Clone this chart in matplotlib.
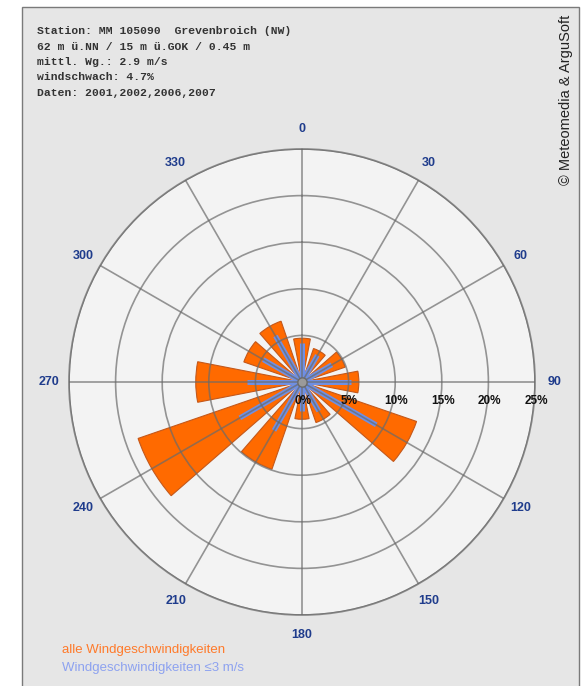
import numpy as np
import matplotlib
matplotlib.use("Agg")
import matplotlib.pyplot as plt
from matplotlib.patches import Rectangle

# Data (percent frequency per 30 degree sector)
directions = [0, 30, 60, 90, 120, 150, 180, 210, 240, 270, 300, 330]
all_speeds = [4.7, 3.8, 4.9, 6.1, 13.0, 4.6, 4.0, 9.9, 18.6, 11.4, 6.6, 6.9]
low_speeds = [4.2, 3.3, 3.7, 5.3, 9.2, 3.6, 3.1, 6.0, 7.7, 5.9, 4.8, 5.7]
ring_values = [0, 5, 10, 15, 20, 25]
ring_labels = ["0%", "5%", "10%", "15%", "20%", "25%"]
angle_labels = ["0", "30", "60", "90", "120", "150", "180",
                "210", "240", "270", "300", "330"]

info_lines = [
    "Station: MM 105090  Grevenbroich (NW)",
    "62 m ü.NN / 15 m ü.GOK / 0.45 m",
    "mittl. Wg.: 2.9 m/s",
    "windschwach: 4.7%",
    "Daten: 2001,2002,2006,2007",
]

W, H = 585, 686
fig = plt.figure(figsize=(W / 100, H / 100), dpi=100)
fig.patch.set_facecolor("white")

# grey panel with frame (background axes)
bg = fig.add_axes([0, 0, 1, 1], zorder=-1)
bg.set_xlim(0, W)
bg.set_ylim(H, 0)
bg.axis("off")
bg.add_patch(Rectangle((22, 7), 557, 685, facecolor="#e6e6e6", edgecolor="#7a7a7a", lw=1.0))

# polar axes: centre (302,382), radius 233 px
cx, cy, R = 302, 382, 233
ax = fig.add_axes([(cx - R) / W, (H - cy - R) / H, 2 * R / W, 2 * R / H], projection="polar")
ax.set_theta_zero_location("N")
ax.set_theta_direction(-1)
ax.set_facecolor("#f3f3f3")
ax.set_ylim(0, 25)

theta = np.deg2rad(directions)
ax.bar(theta, all_speeds, width=np.deg2rad(22), color="#ff6a00",
       edgecolor="#c4581a", linewidth=0.8, zorder=1)
for t, r in zip(theta, low_speeds):
    ax.plot([t, t], [0, r], color="#6f8fe3", lw=3.6, solid_capstyle="butt", zorder=2)

# grid drawn over bars
ax.set_axisbelow(False)
ax.set_xticks(theta)
ax.set_xticklabels([])
ax.set_yticks(ring_values[1:])
ax.set_yticklabels([])
ax.grid(True, color="#6a6a6a", lw=1.2, alpha=0.7)
ax.spines["polar"].set_color("#8a8a8a")
ax.spines["polar"].set_linewidth(1.3)
ax.tick_params(length=0)

ax.scatter([0], [0], s=45, color="#9a9a9a", edgecolor="#6a6a6a", lw=1, zorder=4)

for t, lab in zip(theta, angle_labels):
    ax.text(t, 27.1, lab, ha="center", va="center", color="#1f3c8c",
            fontsize=9, fontweight="bold", family="Liberation Sans", clip_on=False)

for v, lab in zip(ring_values, ring_labels):
    ax.annotate(lab, xy=(np.pi / 2, v), xytext=(1, -19), textcoords="offset pixels",
                ha="center", va="center", fontsize=8.5, fontweight="bold",
                family="Liberation Sans", color="#111111", zorder=5)

for i, line in enumerate(info_lines):
    fig.text(37 / W, 1 - (31 + i * 15.5) / H, line, ha="left", va="center",
             family="Liberation Mono", fontsize=8.2, fontweight="bold", color="#333333")

fig.text(566 / W, 1 - 100 / H, "© Meteomedia & ArguSoft", rotation=90,
         ha="center", va="center", family="Liberation Sans", fontsize=10.5, color="#222222")

fig.text(62 / W, 1 - 650 / H, "alle Windgeschwindigkeiten", ha="left", va="center",
         family="Liberation Sans", fontsize=9.5, color="#ff7a2a")
fig.text(62 / W, 1 - 668 / H, "Windgeschwindigkeiten ≤3 m/s", ha="left", va="center",
         family=["Liberation Sans", "DejaVu Sans"], fontsize=9.5, color="#8da2f0")

fig.savefig("out.png", dpi=100)
